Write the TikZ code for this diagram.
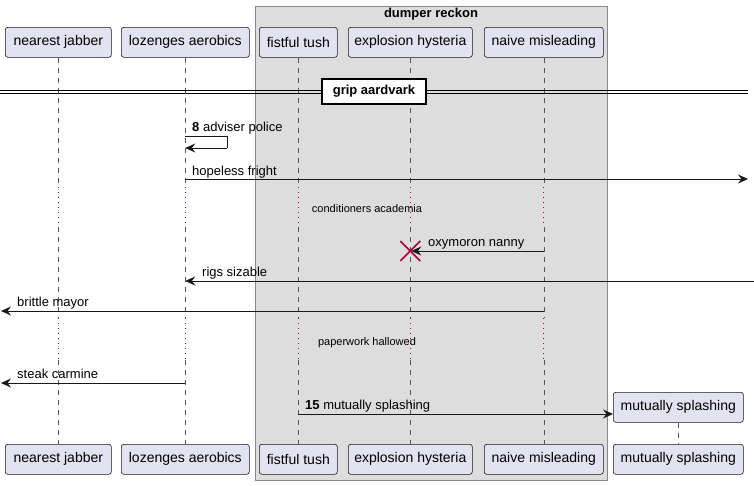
\documentclass[tikz,border=0pt]{standalone}
\usepackage{fontspec}
\setmainfont{Liberation Sans}
\usetikzlibrary{arrows.meta}
\definecolor{partfill}{HTML}{E2E2F0}
\definecolor{partdraw}{HTML}{181818}
\definecolor{grpfill}{HTML}{DDDDDD}
\definecolor{grpdraw}{HTML}{888888}
\definecolor{delayred}{HTML}{A80036}
\definecolor{lifegray}{HTML}{555555}
\begin{document}
\begin{tikzpicture}[x=1pt,y=-1pt,
  part/.style={draw=partdraw,fill=partfill,rounded corners=2.5pt,line width=0.6pt,
    minimum height=30pt,inner sep=0pt,anchor=north west,font=\fontsize{14}{16}\selectfont},
  lifeln/.style={draw=lifegray,line width=0.5pt,dash pattern=on 5pt off 5pt},
  delayln/.style={draw=delayred,line width=0.8pt,dash pattern=on 1pt off 4pt},
  msg/.style={draw=partdraw,line width=0.8pt,-{Stealth[length=10pt,width=9pt,inset=3.5pt]}},
  msgplain/.style={draw=partdraw,line width=0.8pt},
  lbl/.style={inner sep=0pt,anchor=base west,font=\fontsize{13}{15}\selectfont},
  dlbl/.style={inner sep=0pt,anchor=base,font=\fontsize{11}{13}\selectfont},
  ttl/.style={inner sep=0pt,font=\bfseries\fontsize{13}{15}\selectfont}]
\useasboundingbox (0,0) rectangle (754,485);
% group box
\path[fill=grpfill,draw=grpdraw,line width=0.8pt] (255,6) rectangle (607,480);
\node[ttl] (grpt) at (431,14.5) {dumper reckon};
% coordinates
\coordinate (d1a) at (0,187);
\coordinate (d1b) at (0,227);
\coordinate (d2a) at (0,318);
\coordinate (d2b) at (0,360);
% participants top
\node[part,minimum width=106pt] (njT) at (5,27) {nearest jabber};
\node[part,minimum width=128pt] (loT) at (121,27) {lozenges aerobics};
\node[part,minimum width=78pt] (ftT) at (259,27) {fistful tush};
\node[part,minimum width=124pt] (ehT) at (348,27) {explosion hysteria};
\node[part,minimum width=119pt] (nmT) at (484,27) {naive misleading};
% participants bottom
\node[part,minimum width=106pt] (njB) at (5,444) {nearest jabber};
\node[part,minimum width=128pt] (loB) at (121,444) {lozenges aerobics};
\node[part,minimum width=78pt] (ftB) at (259,444) {fistful tush};
\node[part,minimum width=124pt] (ehB) at (348,444) {explosion hysteria};
\node[part,minimum width=119pt] (nmB) at (484,444) {naive misleading};
\node[part,minimum width=130pt] (msB) at (613,444) {mutually splashing};
% lifelines
\foreach \p in {nj,lo,ft,eh,nm}{
  \draw[lifeln] (\p T.south) -- (\p T.south |- d1a);
  \draw[delayln] (\p T.south |- d1a) -- (\p T.south |- d1b);
  \draw[lifeln] (\p T.south |- d1b) -- (\p T.south |- d2a);
  \draw[delayln] (\p T.south |- d2a) -- (\p T.south |- d2b);
  \draw[lifeln] (\p T.south |- d2b) -- (\p B.north);
}
% divider
\coordinate (dvL) at (0,90);
\coordinate (dvR) at (748,90);
\draw[line width=0.8pt] (dvL) -- (dvR);
\draw[line width=0.8pt] ([yshift=-3pt]dvL) -- ([yshift=-3pt]dvR);
\node[ttl,draw=black,fill=white,line width=1.6pt,minimum width=104pt,minimum height=25pt] (dv) at (374,91.5) {grip aardvark};
% message coordinates
\coordinate (m8a) at (0,136);
\coordinate (m8b) at (0,148);
\coordinate (s8) at (227,136);
\coordinate (s8b) at (227,148);
\coordinate (m9) at (0,179);
\coordinate (rEdge9) at (748,179);
\coordinate (m11) at (0,251);
\coordinate (m12) at (0,281);
\coordinate (rEdge12) at (754,281);
\coordinate (m13) at (0,311);
\coordinate (lEdge13) at (1,311);
\coordinate (m14) at (0,383);
\coordinate (lEdge14) at (1,383);
\coordinate (m15) at (0,414);
% 8 adviser police
\draw[msgplain] (loT.south |- m8a) -- (s8) -- (s8b);
\draw[msg] (s8b) -- (loT.south |- m8b);
\node[lbl] (l8) at (192,131.5) {\textbf{8} adviser police};
% hopeless fright
\draw[msg] (loT.south |- m9) -- (rEdge9);
\node[lbl] (l9) at (192,175) {hopeless fright};
% delay 1
\node[dlbl] (dl1) at (367,212) {conditioners academia};
% oxymoron nanny with destroy
\draw[msg] (nmT.south |- m11) -- ([xshift=1pt]ehT.south |- m11);
\coordinate (xc) at (ehT.south |- m11);
\draw[delayred,line width=1.6pt] ([shift={(-10pt,-10pt)}]xc) -- ([shift={(10pt,10pt)}]xc);
\draw[delayred,line width=1.6pt] ([shift={(-10pt,10pt)}]xc) -- ([shift={(10pt,-10pt)}]xc);
\node[lbl] (l11) at (428,246.5) {oxymoron nanny};
% rigs sizable
\draw[msg] (rEdge12) -- (loT.south |- m12);
\node[lbl] (l12) at (202,276.5) {rigs sizable};
% brittle mayor
\draw[msg] (nmT.south |- m13) -- (lEdge13);
\node[lbl] (l13) at (17,306.5) {brittle mayor};
% delay 2
\node[dlbl] (dl2) at (367,345) {paperwork hallowed};
% steak carmine
\draw[msg] (loT.south |- m14) -- (lEdge14);
\node[lbl] (l14) at (17,378.5) {steak carmine};
% created participant
\node[part,minimum width=130pt] (msT) at (613,392) {mutually splashing};
\draw[lifeln] (msT.south) -- (msB.north);
\draw[msg] (ftT.south |- m15) -- (msT.west |- m15);
\node[lbl] (l15) at (305,409.5) {\textbf{15} mutually splashing};
\end{tikzpicture}
\end{document}
